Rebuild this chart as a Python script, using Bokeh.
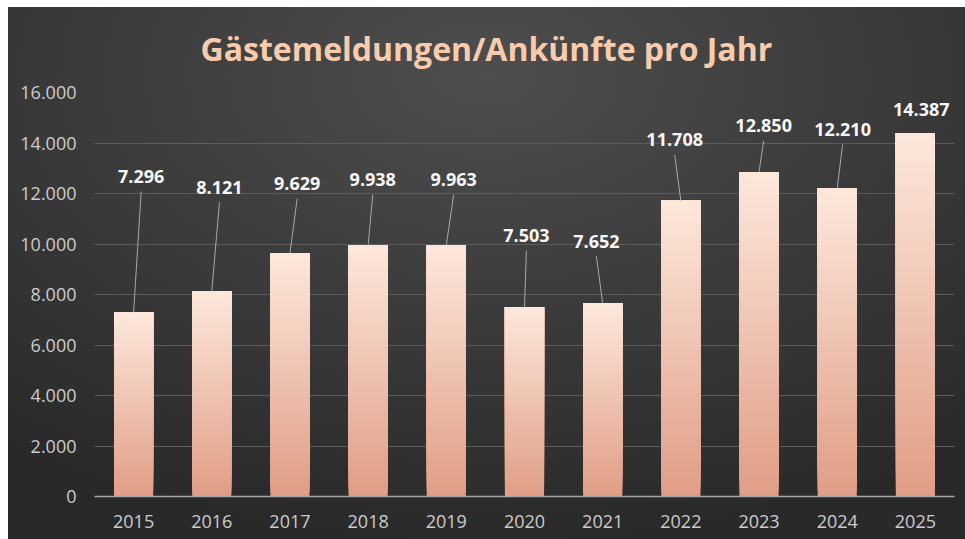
from bokeh.plotting import figure
from bokeh.models import ColumnDataSource, FixedTicker, Range1d
from bokeh.embed import file_html
from bokeh.resources import INLINE
from bokeh.core.properties import value

# ---- data ----
years = ["2015", "2016", "2017", "2018", "2019", "2020", "2021", "2022", "2023", "2024", "2025"]
guests = [7296, 8121, 9629, 9938, 9963, 7503, 7652, 11708, 12850, 12210, 14387]
y_ticks = [0, 2000, 4000, 6000, 8000, 10000, 12000, 14000, 16000]
y_tick_labels = ["0", "2.000", "4.000", "6.000", "8.000", "10.000", "12.000", "14.000", "16.000"]
title_text = "Gästemeldungen/Ankünfte pro Jahr"

# ---- label placement (positions, not data) ----
label_y = [12680, 12256, 12391, 12550, 12550, 10340, 10114, 14136, 14675, 14533, 15326]
label_dx_px = [7.6, 7.7, 7.2, 4.6, 7.4, 1.9, -6.3, -6.2, 4.6, 5.4, 5.9]
has_leader = [True] * 10 + [False]

W, H = 965, 539
ML, MR, MT, MB = 94, 11, 92, 43
frame_w = W - ML - MR
frame_h = H - MT - MB
px_x = frame_w / 11.0          # px per category unit
px_y = frame_h / 16000.0       # px per data unit

idx = list(range(len(years)))

p = figure(width=W, height=H, x_range=Range1d(-0.5, 10.5), y_range=Range1d(0, 16000),
           output_backend="svg", toolbar_location=None,
           min_border_left=ML, min_border_right=MR, min_border_top=MT, min_border_bottom=MB)
p.styles = {
    "background": (
        "linear-gradient(#ffffff, #ffffff) 0 0 / 100% 7px no-repeat, "
        "linear-gradient(#ffffff, #ffffff) 0 0 / 8px 100% no-repeat, "
        "radial-gradient(ellipse 780px 470px at 486px 77px, #4e4e4e 0%, #3d3d3d 45%, #292929 100%) "
        "0 0 / 100% 100% no-repeat, #292929"
    )
}
p.background_fill_alpha = 0
p.border_fill_alpha = 0
p.outline_line_color = None

# title
p.title.text = title_text
p.title.align = "left"
p.title.offset = 106
p.title.text_font = "Open Sans"
p.title.text_font_style = "bold"
p.title.text_font_size = "32px"
p.title.text_color = "#F8CBAD"
p.title.standoff = 46

# axes
p.xaxis.ticker = FixedTicker(ticks=idx)
p.xaxis.major_label_overrides = {i: y for i, y in zip(idx, years)}
p.xaxis.major_tick_line_color = None
p.xaxis.minor_tick_line_color = None
p.xaxis.axis_line_color = "#a6a6a6"
p.xaxis.axis_line_width = 1.5
p.xaxis.major_label_standoff = 12
p.xaxis.major_label_text_font = "Open Sans"
p.xaxis.major_label_text_font_size = "18px"
p.xaxis.major_label_text_color = "#cccccc"

p.yaxis.ticker = FixedTicker(ticks=y_ticks)
p.yaxis.major_label_overrides = {t: l for t, l in zip(y_ticks, y_tick_labels)}
p.yaxis.axis_line_color = None
p.yaxis.major_tick_line_color = None
p.yaxis.minor_tick_line_color = None
p.yaxis.major_label_standoff = 12
p.yaxis.major_label_text_font = "Open Sans"
p.yaxis.major_label_text_font_size = "18px"
p.yaxis.major_label_text_color = "#cccccc"

p.xgrid.grid_line_color = None
p.ygrid.ticker = FixedTicker(ticks=y_ticks)
p.ygrid.grid_line_color = "#5c5c5c"
p.ygrid.grid_line_width = 1

# bars with vertical gradient (stacked slices, drawn bottom-up)
N = 60
top_c = (253, 232, 220)
bot_c = (224, 157, 133)
bx, bb, bt, bc = [], [], [], []
for i in range(N):
    f = i / N
    t = (i + 0.5) / N
    col = tuple(int(round(bot_c[k] + (top_c[k] - bot_c[k]) * t)) for k in range(3))
    hexc = "#%02x%02x%02x" % col
    for j, v in zip(idx, guests):
        bx.append(j)
        bb.append(v * f)
        bt.append(v)
        bc.append(hexc)
p.vbar(x="x", bottom="b", top="t", width=0.5, fill_color="c", line_color=None,
       source=ColumnDataSource(dict(x=bx, b=bb, t=bt, c=bc)))

# leader lines
lx0, ly0, lx1, ly1 = [], [], [], []
for j, v, ly, dx, hl in zip(idx, guests, label_y, label_dx_px, has_leader):
    if hl:
        lx0.append(j + dx / px_x)
        ly0.append(ly - 15 / px_y)
        lx1.append(j)
        ly1.append(v)
p.segment(x0=lx0, y0=ly0, x1=lx1, y1=ly1, line_color="#a8a8a8", line_width=1)

# data labels
labels = [f"{v:,}".replace(",", ".") for v in guests]
p.text(x="x", y="y", text="t", x_offset="dx",
       source=ColumnDataSource(dict(x=idx, y=label_y, t=labels, dx=label_dx_px)),
       text_align="center", text_baseline="middle",
       text_font=value("Open Sans"), text_font_style="bold", text_font_size="18px",
       text_color="#f7f7f7")

open("out.html", "w").write(file_html(p, INLINE))
